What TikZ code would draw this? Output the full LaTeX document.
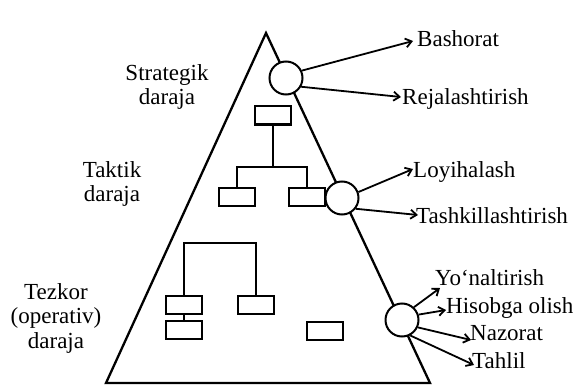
\documentclass[tikz,border=0pt]{standalone}
\usepackage{fontspec}
\setmainfont{Liberation Serif}
\usetikzlibrary{arrows.meta}
\begin{document}
\begin{tikzpicture}[x=1pt,y=-1pt,
  every node/.style={font=\fontsize{23}{24.5}\selectfont},
  lbl/.style={anchor=base west,inner sep=0pt},
  side/.style={align=center,inner sep=0pt},
  box/.style={draw,line width=2pt,minimum width=36pt,minimum height=18pt,inner sep=0pt},
  ring/.style={draw,circle,fill=white,line width=2pt,minimum size=33pt,inner sep=0pt},
  edge/.style={line width=2.3pt,line join=miter},
  link/.style={line width=2pt},
  arr/.style={line width=1.8pt,-{Straight Barb[length=6pt,width=9pt,line width=1.8pt]}}]
\useasboundingbox (0,0) rectangle (575,385);
% pyramid
\coordinate (apex) at (266,33);
\coordinate (bl) at (106,383);
\coordinate (br) at (430,383);
\draw[edge] (apex) -- (bl) -- (br) -- cycle;
% tactical tree
\node[box] (t1) at (273,115.5) {};
\node[box] (t2) at (236.5,196.5) {};
\node[box] (t3) at (307,196.5) {};
\coordinate (bar1) at (273,167);
\draw[link] (t1.south) -- (bar1);
\draw[link] (t2.north) |- (bar1) -| (t3.north);
% operative tree
\node[box] (oa) at (184,304.5) {};
\node[box] (ob) at (184,330) {};
\node[box] (oc) at (255.5,304.5) {};
\node[box] (od) at (324.5,331) {};
\coordinate (bar2) at (220,243);
\draw[link] (oa.north) |- (bar2) -| (oc.north);
\draw[link] (oa) -- (ob);
% circles
\node[ring] (c1) at (286,78) {};
\node[ring] (c2) at (342,198) {};
\node[ring] (c3) at (402,320) {};
% left labels
\node[side] (ls) at (167,87) {Strategik\\daraja};
\node[side] (lt) at (112,184) {Taktik\\daraja};
\node[side] (lo) at (56,318) {Tezkor\\(operativ)\\daraja};
% right labels
\node[lbl] (bash) at (417,47) {Bashorat};
\node[lbl] (reja) at (402,105) {Rejalashtirish};
\node[lbl] (loyi) at (413,177) {Loyihalash};
\node[lbl] (tash) at (416,223) {Tashkillashtirish};
\node[lbl] (yona) at (435,285) {Yo‘naltirish};
\node[lbl] (hiso) at (446,313) {Hisobga olish};
\node[lbl] (nazo) at (470,340) {Nazorat};
\node[lbl] (tahl) at (472,368) {Tahlil};
% arrow tips
\coordinate (pbash) at (413,41);
\coordinate (preja) at (401,97);
\coordinate (ployi) at (413,169);
\coordinate (ptash) at (418,215);
\coordinate (pyona) at (440,288);
\coordinate (phiso) at (446,310);
\coordinate (pnazo) at (471,340);
\coordinate (ptahl) at (474,365);
\draw[arr] (c1.25) -- (pbash);
\draw[arr] (c1.-30) -- (preja);
\draw[arr] (c2.20) -- (ployi);
\draw[arr] (c2.-38) -- (ptash);
\draw[arr] (c3.47) -- (pyona);
\draw[arr] (c3.18) -- (phiso);
\draw[arr] (c3.-25) -- (pnazo);
\draw[arr] (c3.-62) -- (ptahl);
\end{tikzpicture}
\end{document}
